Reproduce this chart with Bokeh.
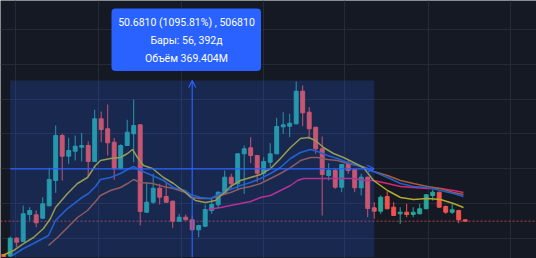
from bokeh.plotting import figure
from bokeh.models import Range1d, FixedTicker, Span, BoxAnnotation, Label, Arrow, OpenHead
from bokeh.embed import file_html
from bokeh.resources import INLINE

# ---------------- data ----------------
bars = list(range(-1, 71))
opens = [5.36, 4.90, 10.04, 9.09, 16.84, 16.75, 15.78, 19.34, 26.60, 39.52,
         33.58, 35.01, 36.16, 36.65, 32.06, 44.32, 41.45, 37.60, 29.96, 36.65,
         40.01, 42.59, 17.50, 20.37, 24.39, 22.01, 20.66, 14.92, 16.07, 15.32,
         12.45, 13.48, 17.99, 19.63, 22.96, 27.55, 25.65, 34.27, 35.99, 33.78,
         28.70, 31.86, 34.27, 42.02, 42.19, 42.88, 52.24, 46.21, 41.90, 35.70,
         28.04, 29.47, 24.68, 31.20, 29.67, 24.51, 27.55, 18.76, 17.79, 22.01,
         18.94, 17.04, 17.50, 16.84, 17.04, 18.48, 22.30, 23.24, 19.14, 17.50,
         17.99, 15.32]
highs = [5.50, 10.52, 10.32, 19.42, 18.94, 17.99, 21.81, 30.25, 42.39, 40.01,
         38.86, 39.52, 40.30, 37.80, 46.90, 46.41, 48.42, 38.86, 37.00, 44.03,
         49.86, 42.70, 26.11, 28.53, 25.65, 26.11, 20.80, 17.04, 16.84, 16.55,
         13.90, 19.71, 21.63, 23.40, 29.47, 28.53, 34.40, 36.65, 39.03, 33.90,
         33.29, 37.31, 44.60, 46.21, 45.75, 55.02, 53.88, 47.65, 42.00, 39.23,
         31.57, 29.96, 31.30, 32.34, 29.80, 28.53, 27.70, 20.37, 22.30, 23.44,
         20.37, 18.94, 19.91, 18.94, 19.91, 22.60, 23.93, 23.40, 19.42, 19.91,
         18.19, 15.40]
lows = [4.70, 4.63, 7.45, 8.90, 15.12, 13.19, 15.60, 19.20, 23.07, 26.60,
        31.40, 32.34, 32.06, 27.55, 31.90, 37.60, 33.78, 26.80, 29.80, 36.50,
        31.86, 13.68, 17.30, 19.91, 19.71, 20.20, 13.02, 14.80, 15.20, 12.30,
        10.32, 13.30, 17.04, 18.65, 22.80, 24.22, 23.73, 22.78, 31.57, 26.11,
        26.60, 30.42, 34.10, 40.01, 39.03, 42.70, 42.19, 38.57, 34.27, 16.55,
        26.60, 24.22, 23.24, 28.53, 23.24, 22.30, 16.07, 15.61, 17.04, 18.40,
        16.45, 14.17, 16.07, 16.07, 16.90, 18.40, 20.86, 18.80, 17.04, 17.04,
        14.34, 14.92]
closes = [4.78, 10.04, 8.89, 17.04, 17.99, 14.46, 19.91, 26.89, 39.52, 33.58,
          35.21, 36.45, 36.65, 32.06, 44.32, 41.24, 37.43, 29.96, 36.65, 40.47,
          42.39, 17.70, 20.37, 24.39, 21.81, 20.37, 14.92, 16.07, 15.32, 12.45,
          13.68, 18.28, 19.71, 23.24, 27.55, 25.65, 34.27, 35.70, 33.78, 28.70,
          32.06, 34.27, 42.11, 42.59, 43.05, 52.24, 46.04, 41.45, 35.70, 28.32,
          29.47, 24.68, 31.20, 29.47, 24.51, 27.55, 18.56, 17.79, 21.81, 18.48,
          16.55, 17.50, 16.84, 17.50, 18.48, 22.50, 23.24, 18.94, 17.50, 18.19,
          15.32, 14.92]

# moving averages (bar position, value)
ma_fast_x = [-1.18, 0.51, 2.05, 3.58, 5.12, 6.2, 6.97, 8.82, 10.35, 11.89, 13.12, 13.89,
             15.43, 16.97, 18.05, 18.82, 19.58, 20.51, 21.89, 23.58, 25.12, 26.97, 28.5,
             30.05, 31.58, 33.12, 33.89, 35.43, 36.97, 38.51, 40.05, 41.58, 43.12, 44.66,
             45.89, 46.97, 48.2, 49.74, 51.28, 52.82, 54.35, 55.89, 58.05, 60.05, 62.05,
             64.2, 66.2, 68.2, 69.74]
ma_fast = [5.07, 6.50, 8.51, 10.24, 12.82, 15.69, 18.85, 22.87, 25.74, 27.46, 30.91, 32.34,
           32.92, 33.21, 34.35, 35.50, 33.21, 30.91, 30.05, 27.46, 25.74, 23.16, 20.86,
           20.28, 20.86, 23.44, 24.88, 26.60, 27.46, 28.32, 30.05, 32.92, 36.08, 38.66,
           38.95, 38.09, 36.08, 34.35, 33.21, 31.77, 30.33, 26.60, 23.73, 21.72, 21.15,
           21.43, 21.15, 20.00, 18.85]
ma_mid_x = [0.35, 2.05, 3.58, 5.89, 6.97, 8.82, 10.82, 12.05, 13.12, 13.89, 15.43, 16.97,
            18.05, 18.97, 20.05, 21.89, 23.58, 25.12, 26.97, 27.74, 29.28, 30.82, 32.35,
            33.89, 35.43, 36.97, 38.51, 40.05, 41.58, 43.12, 44.66, 46.2, 47.28, 48.82,
            50.35, 51.89, 53.43, 54.66, 55.89, 58.05, 60.05, 62.05, 64.2, 66.2, 68.2, 69.74]
ma_mid = [5.07, 7.08, 8.51, 10.81, 15.12, 18.56, 21.43, 22.87, 24.88, 26.89, 27.46, 28.61,
          29.76, 30.62, 29.47, 28.04, 26.60, 24.59, 23.73, 22.58, 21.72, 21.43, 22.87,
          24.02, 25.17, 26.03, 27.18, 28.61, 30.33, 32.92, 34.64, 35.50, 34.93, 33.78,
          32.92, 31.77, 30.91, 30.05, 29.19, 27.46, 25.74, 24.88, 24.59, 23.73, 22.87, 22.01]
ma_slow_x = [5.89, 7.28, 8.82, 10.35, 11.89, 13.12, 13.89, 15.43, 16.97, 18.05, 18.97, 20.05,
             21.89, 23.58, 25.12, 26.97, 27.74, 29.28, 30.82, 32.35, 33.89, 35.43, 36.97,
             38.51, 40.05, 41.58, 43.12, 44.66, 46.2, 47.28, 48.82, 50.35, 51.89, 53.43,
             54.66, 55.89, 58.05, 60.05, 62.05, 64.2, 66.2, 68.2, 69.74]
ma_slow = [7.94, 10.24, 13.11, 15.98, 17.99, 20.57, 22.30, 23.73, 24.59, 25.74, 26.89, 26.03,
           25.74, 24.88, 24.31, 23.16, 21.72, 21.43, 21.43, 22.30, 23.16, 24.31, 24.88,
           25.74, 27.18, 28.61, 30.33, 32.34, 33.21, 33.21, 32.63, 32.34, 31.48, 30.91,
           30.33, 29.19, 28.04, 26.60, 25.74, 24.88, 24.31, 23.16, 22.58]
ma_long_x = [30.51, 32.35, 33.89, 35.43, 36.97, 38.51, 40.05, 41.58, 43.12, 44.2, 45.12,
             47.28, 50.35, 52.82, 54.66, 55.89, 58.05, 60.05, 62.05, 64.2, 66.2, 68.2, 69.74]
ma_long = [18.28, 18.85, 19.42, 20.00, 20.57, 21.72, 22.30, 23.73, 25.17, 26.60, 27.18,
           27.18, 27.18, 27.18, 26.60, 26.60, 25.74, 24.88, 24.59, 24.31, 24.31, 23.73, 23.16]

# measurement tool
meas_start_bar, meas_end_bar = 0, 56
meas_low, meas_high = 4.625, 55.306
tooltip_lines = ["50.6810 (1095.81%) , 506810", "Бары: 56, 392д", "Объём 369.404M"]

grid_x = [0.82, 13.54, 26.35, 38.92, 51.48, 64.31, 76.97]
grid_y = [10, 20, 30, 40, 50, 60, 70]

# ---------------- figure ----------------
W, H = 536, 258
X0, X1 = -1.492, 80.969
Y0, Y1 = 4.21, 78.28


def px_x(px):
    return X0 + px / W * (X1 - X0)


def px_y(py):
    return Y1 - py / H * (Y1 - Y0)


BG = "#151924"
p = figure(width=W, height=H, x_range=Range1d(X0, X1), y_range=Range1d(Y0, Y1),
           toolbar_location=None, output_backend="svg", min_border=0,
           background_fill_color=BG, border_fill_color=BG)
p.axis.visible = False
p.outline_line_color = None
p.xgrid.ticker = FixedTicker(ticks=grid_x)
p.ygrid.ticker = FixedTicker(ticks=grid_y)
p.grid.grid_line_color = "#252a37"
p.grid.grid_line_width = 1

UP, DOWN = "#26a69a", "#ef5350"
colors = [UP if c >= o else DOWN for o, c in zip(opens, closes)]
tops = [max(o, c) for o, c in zip(opens, closes)]
bots = [min(o, c) for o, c in zip(opens, closes)]

# last price line
p.add_layout(Span(location=closes[-1], dimension="width", line_color="#ef5350",
                  line_alpha=0.75, line_dash="2 2", line_width=1, level="underlay"))

p.segment(x0=bars, y0=lows, x1=bars, y1=highs, line_color=colors, line_width=1)
p.vbar(x=bars, width=0.6, top=tops, bottom=bots, fill_color=colors,
       line_color=colors, line_width=1)

p.line(ma_long_x, ma_long, line_color="#d8257c", line_width=1.5)
p.line(ma_slow_x, ma_slow, line_color="#a65a3c", line_width=1.5)
p.line(ma_mid_x, ma_mid, line_color="#1e62c8", line_width=1.6)
p.line(ma_fast_x, ma_fast, line_color="#b1aa2c", line_width=1.5)

# measurement rectangle overlay
p.add_layout(BoxAnnotation(left=meas_start_bar, right=meas_end_bar, bottom=meas_low,
                           top=meas_high, fill_color="#2962ff", fill_alpha=0.2,
                           line_color=None))
mid_bar = (meas_start_bar + meas_end_bar) / 2
mid_price = (meas_low + meas_high) / 2
p.add_layout(Arrow(x_start=meas_start_bar, y_start=mid_price, x_end=meas_end_bar,
                   y_end=mid_price, line_color="#2962ff", line_width=1.2,
                   end=OpenHead(size=7, line_color="#2962ff", line_width=1.2)))
p.add_layout(Arrow(x_start=mid_bar, y_start=meas_low, x_end=mid_bar, y_end=meas_high,
                   line_color="#2962ff", line_width=1.2,
                   end=OpenHead(size=7, line_color="#2962ff", line_width=1.2)))

# tooltip
p.add_layout(BoxAnnotation(left=px_x(111), right=px_x(260.5), top=px_y(8), bottom=px_y(70.5),
                           fill_color="#2962ff", fill_alpha=1.0, line_color=None,
                           border_radius=4))
for k, t in enumerate(tooltip_lines):
    p.add_layout(Label(x=px_x(186), y=px_y(21.5 + 18 * k), text=t, text_align="center",
                       text_baseline="middle", text_color="#ffffff", text_font="Roboto",
                       text_font_size="10.5px"))

open("out.html", "w").write(file_html(p, INLINE))
